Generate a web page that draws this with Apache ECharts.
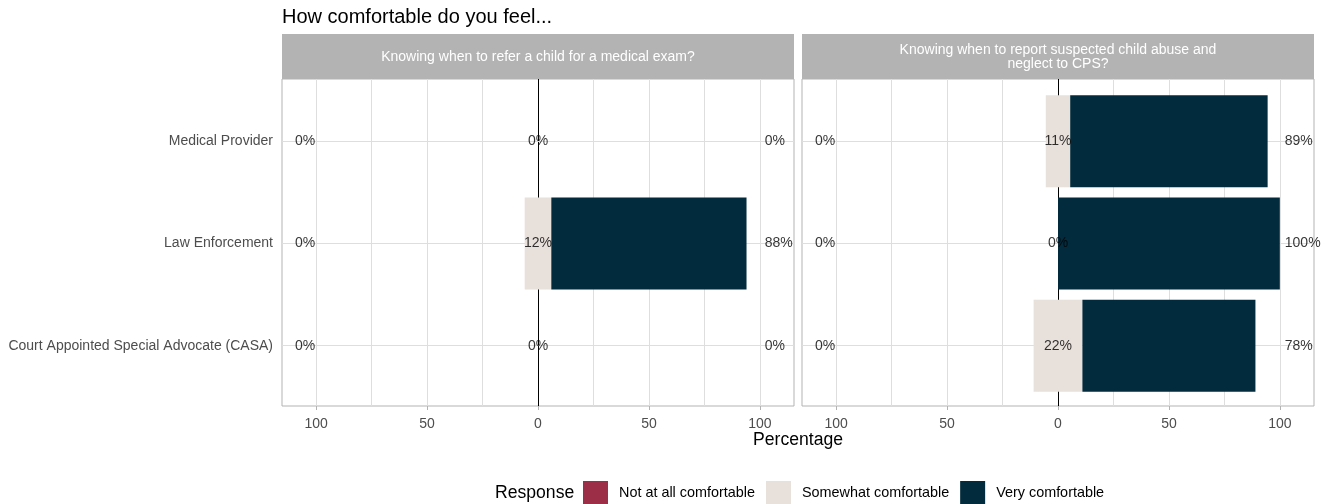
<!DOCTYPE html>
<html>
<head>
<meta charset="utf-8">
<script src="https://cdn.jsdelivr.net/npm/echarts@6/dist/echarts.min.js"></script>
<style>
  body { margin: 0; background: #fff; }
  #main { width: 1325px; height: 504px; }
</style>
</head>
<body>
<div id="main"></div>
<script>
var FONT = '"Liberation Sans", Arial, sans-serif';

// data
var categories = ['Medical Provider', 'Law Enforcement', 'Court Appointed Special Advocate (CASA)'];
var panelTitles = [
    'Knowing when to refer a child for a medical exam?',
    'Knowing when to report suspected child abuse and\nneglect to CPS?'
];
var responses = ['Not at all comfortable', 'Somewhat comfortable', 'Very comfortable'];
var referNotAtAll  = [0, 0, 0];
var referSomewhat  = [0, 12, 0];
var referVery      = [0, 88, 0];
var reportNotAtAll = [0, 0, 0];
var reportSomewhat = [11, 0, 22];
var reportVery     = [89, 100, 78];
var tickValues = [-100, -50, 0, 50, 100];
var gridValues = [-100, -75, -50, -25, 25, 50, 75, 100];

var panelData = [
    [referNotAtAll, referSomewhat, referVery],
    [reportNotAtAll, reportSomewhat, reportVery]
];
var colors = ['#9c2f47', '#e8e0db', '#022b3d'];

// layout (ggplot facet look)
var panelLeft = [282, 802], panelWidth = 512, panelTop = 79, panelHeight = 327;
var unit = panelHeight / 3.2;
var xMin = -115.4, xMax = 115.4;

var chart = echarts.init(document.getElementById('main'));

var grids = [], xAxes = [], yAxes = [], series = [], graphics = [];

for (var p = 0; p < 2; p++) {
    // frame grid: border, vertical grid lines, x labels
    grids.push({left: panelLeft[p], top: panelTop, width: panelWidth, height: panelHeight,
        show: true, borderColor: '#b3b3b3', borderWidth: 1, backgroundColor: 'transparent'});
    xAxes.push({type: 'value', gridIndex: p, min: xMin, max: xMax,
        axisLine: {show: false}, splitLine: {show: false},
        axisTick: {show: true, customValues: tickValues, length: 4, lineStyle: {color: '#b3b3b3'}},
        axisLabel: {customValues: tickValues, color: '#4d4d4d', fontSize: 14, fontFamily: FONT, margin: 11,
            formatter: function (v) { return Math.abs(v); }}
    });
    yAxes.push({type: 'value', gridIndex: p, min: 0, max: 1, show: false});
}
for (var p = 0; p < 2; p++) {
    // bar grid: category bands sized like ggplot's discrete expansion
    grids.push({left: panelLeft[p], top: panelTop + unit * 0.1 + 1, width: panelWidth, height: unit * 3});
    xAxes.push({type: 'value', gridIndex: p + 2, min: xMin, max: xMax, show: false});
    yAxes.push({type: 'category', gridIndex: p + 2, data: categories, inverse: true,
        axisLine: {show: false}, splitLine: {show: false},
        axisTick: {show: p == 0, alignWithLabel: true, length: 5, lineStyle: {color: '#b3b3b3'}},
        axisLabel: {show: p == 0, color: '#4d4d4d', fontSize: 14, fontFamily: FONT, margin: 9}
    });
}

for (var p = 0; p < 2; p++) {
    var notAtAll = panelData[p][0], somewhat = panelData[p][1], very = panelData[p][2];
    var vlines = gridValues.map(function (v) { return {xAxis: v, lineStyle: {color: '#dedede'}}; });
    vlines.push({xAxis: 0, lineStyle: {color: '#000', width: 1}});

    series.push({type: 'scatter', xAxisIndex: p, yAxisIndex: p, data: [], silent: true,
        markLine: {silent: true, symbol: 'none', z: 1, label: {show: false},
            lineStyle: {type: 'solid', width: 1}, data: vlines}});

    var ax = {xAxisIndex: p + 2, yAxisIndex: p + 2, stack: 'p' + p, barWidth: '90%', silent: true};
    series.push(Object.assign({type: 'bar', name: responses[1],
        data: somewhat.map(function (v) { return -v / 2; }), itemStyle: {color: colors[1]},
        markLine: {silent: true, symbol: 'none', z: 1, label: {show: false},
            lineStyle: {type: 'solid', width: 1, color: '#dedede'},
            data: categories.map(function (c) { return {yAxis: c}; })}}, ax));
    series.push(Object.assign({type: 'bar', name: responses[0],
        data: notAtAll.map(function (v) { return -v; }), itemStyle: {color: colors[0]}}, ax));
    series.push(Object.assign({type: 'bar', name: responses[1],
        data: somewhat.map(function (v) { return v / 2; }), itemStyle: {color: colors[1]}}, ax));
    series.push(Object.assign({type: 'bar', name: responses[2],
        data: very, itemStyle: {color: colors[2]}}, ax));

    // percentage labels at fixed columns
    var cols = [[notAtAll, -105, 'inside'], [somewhat, 0, 'inside'], [very, 102, 'right']];
    for (var k = 0; k < cols.length; k++) {
        var vals = cols[k][0], xPos = cols[k][1];
        series.push({type: 'scatter', xAxisIndex: p + 2, yAxisIndex: p + 2, z: 5, silent: true,
            symbolSize: 1, itemStyle: {color: 'transparent'},
            data: vals.map(function (v, i) { return {value: [xPos, i], pct: v}; }),
            label: {show: true, position: cols[k][2], distance: 0, color: '#000', fontSize: 14,
                fontFamily: FONT, formatter: function (d) { return d.data.pct + '%'; }}
        });
    }

    // strip
    graphics.push({type: 'rect', shape: {x: panelLeft[p], y: 34, width: panelWidth, height: 45},
        style: {fill: '#b3b3b3'}, silent: true});
    graphics.push({type: 'text', x: panelLeft[p] + panelWidth / 2, y: 57,
        style: {text: panelTitles[p], fill: '#ffffff', font: '14px ' + FONT, align: 'center',
            verticalAlign: 'middle', lineHeight: 13.5}, silent: true});
}

graphics.push({type: 'text', x: 798, y: 440,
    style: {text: 'Percentage', fill: '#000', font: '17.6px ' + FONT, align: 'center', verticalAlign: 'middle'}});
graphics.push({type: 'text', x: 495, y: 493,
    style: {text: 'Response', fill: '#000', font: '17.6px ' + FONT, align: 'left', verticalAlign: 'middle'}});

chart.setOption({
    animation: false,
    title: {text: 'How comfortable do you feel...', left: 282, top: 7, padding: 0,
        textStyle: {fontSize: 20, fontWeight: 'normal', color: '#000', fontFamily: FONT}},
    legend: {data: responses, left: 583, top: 481, padding: 0, orient: 'horizontal', icon: 'rect',
        itemWidth: 25, itemHeight: 24, itemGap: 11, selectedMode: false,
        itemStyle: {borderWidth: 0},
        textStyle: {fontSize: 14.4, color: '#000', fontFamily: FONT, padding: [0, 0, 0, 6]}},
    grid: grids,
    xAxis: xAxes,
    yAxis: yAxes,
    series: series,
    graphic: graphics
});
</script>
</body>
</html>
